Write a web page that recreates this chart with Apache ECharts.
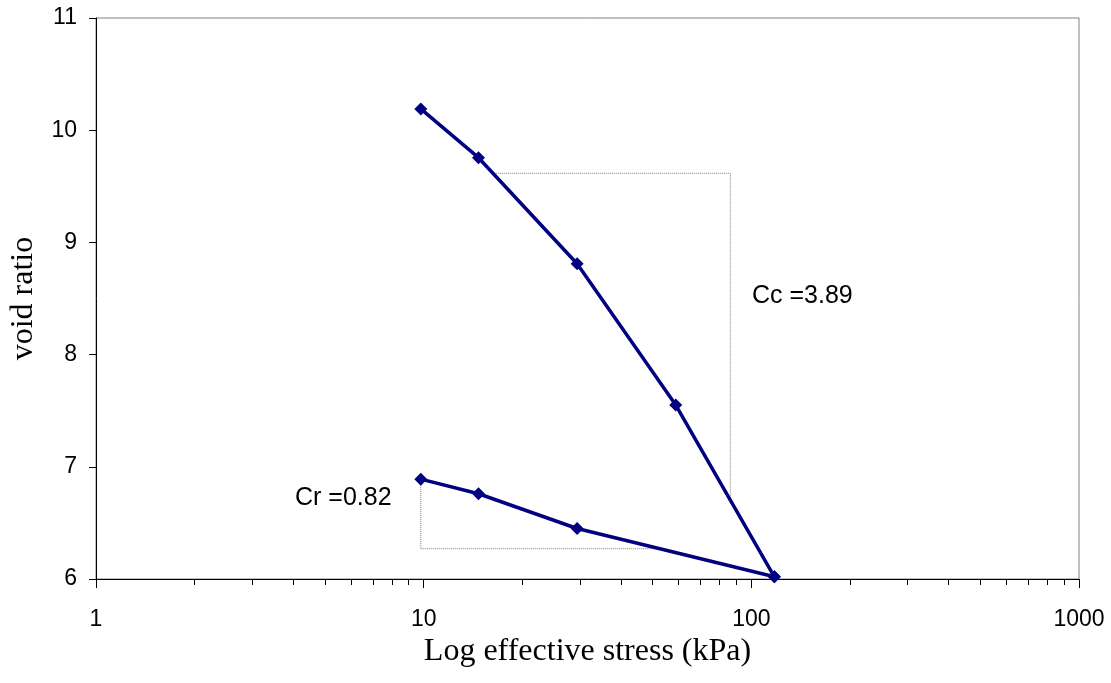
<!DOCTYPE html>
<html>
<head>
<meta charset="utf-8">
<script src="https://cdn.jsdelivr.net/npm/echarts@6/dist/echarts.min.js"></script>
<style>
  html, body { margin: 0; padding: 0; background: #fff; }
  #chart { width: 1111px; height: 683px; }
</style>
</head>
<body>
<div id="chart"></div>
<script>
// consolidation test: loading and unloading branches
const stressLoad = [9.8, 14.7, 29.4, 58.8, 117.6];
const ratioLoad = [10.19, 9.755, 8.81, 7.55, 6.02];
const stressUnload = [9.8, 14.7, 29.4, 117.6];
const ratioUnload = [6.89, 6.76, 6.45, 6.02];

// slope construction triangles (dotted)
const ccStress = [16.6, 86.3, 86.3];
const ccRatio = [9.616, 9.616, 6.72];
const crStress = [9.8, 9.8, 51.6];
const crRatio = [6.89, 6.27, 6.27];

const minorTicks = [2, 3, 4, 5, 6, 7, 8, 9, 20, 30, 40, 50, 60, 70, 80, 90, 200, 300, 400, 500, 600, 700, 800, 900];
const ccText = "Cc =3.89";
const crText = "Cr =0.82";

function pairs(xs, ys) {
  return xs.map((x, i) => [x, ys[i]]);
}

let chart = echarts.init(document.getElementById("chart"));

const sansFont = "'Liberation Sans', Arial, sans-serif";
const serifFont = "'Liberation Serif', 'Times New Roman', serif";

let option = {
  animation: false,
  grid: {
    left: 95,
    right: 32,
    top: 18,
    bottom: 104,
    show: true,
    borderColor: "#808080",
    borderWidth: 1
  },
  xAxis: [
    {
      type: "log",
      logBase: 10,
      min: 1,
      max: 1000,
      name: "Log effective stress (kPa)",
      nameLocation: "middle",
      nameGap: 51,
      nameTextStyle: { fontFamily: serifFont, fontSize: 32, color: "#000" },
      axisLine: { lineStyle: { color: "#000", width: 1 } },
      axisTick: { show: true, length: 9, lineStyle: { color: "#000" } },
      axisLabel: {
        margin: 29,
        fontFamily: sansFont,
        fontSize: 23,
        color: "#000",
        formatter: v => String(v)
      },
      splitLine: { show: false },
      minorTick: { show: false }
    },
    {
      type: "log",
      logBase: 10,
      min: 1,
      max: 1000,
      position: "bottom",
      axisLine: { show: false },
      axisTick: { show: true, length: 6, customValues: minorTicks, lineStyle: { color: "#000" } },
      axisLabel: { show: false },
      splitLine: { show: false }
    }
  ],
  yAxis: {
    type: "value",
    min: 6,
    max: 11,
    interval: 1,
    name: "void ratio",
    nameLocation: "middle",
    nameGap: 56,
    nameTextStyle: { fontFamily: serifFont, fontSize: 32, color: "#000" },
    axisLine: { show: true, lineStyle: { color: "#000", width: 1 } },
    axisTick: { show: true, length: 7, lineStyle: { color: "#000" } },
    axisLabel: { margin: 19, fontFamily: sansFont, fontSize: 23, color: "#000" },
    splitLine: { show: false }
  },
  series: [
    {
      name: "cc",
      type: "line",
      data: pairs(ccStress, ccRatio),
      symbol: "none",
      lineStyle: { color: "#808080", width: 1, type: "dotted" },
      z: 1
    },
    {
      name: "cr",
      type: "line",
      data: pairs(crStress, crRatio),
      symbol: "none",
      lineStyle: { color: "#808080", width: 1, type: "dotted" },
      z: 1
    },
    {
      name: "loading",
      type: "line",
      data: pairs(stressLoad, ratioLoad),
      symbol: "diamond",
      symbolSize: 13,
      itemStyle: { color: "#000080" },
      lineStyle: { color: "#000080", width: 3.5 },
      z: 5
    },
    {
      name: "unloading",
      type: "line",
      data: pairs(stressUnload, ratioUnload),
      symbol: "diamond",
      symbolSize: 13,
      itemStyle: { color: "#000080" },
      lineStyle: { color: "#000080", width: 3.5 },
      z: 5
    }
  ],
  graphic: [
    {
      type: "text",
      left: 752,
      top: 284,
      style: {
        text: ccText,
        font: "25px " + sansFont,
        fill: "#000"
      }
    },
    {
      type: "text",
      left: 295,
      top: 486,
      style: {
        text: crText,
        font: "25px " + sansFont,
        fill: "#000"
      }
    }
  ]
};

chart.setOption(option);
</script>
</body>
</html>
